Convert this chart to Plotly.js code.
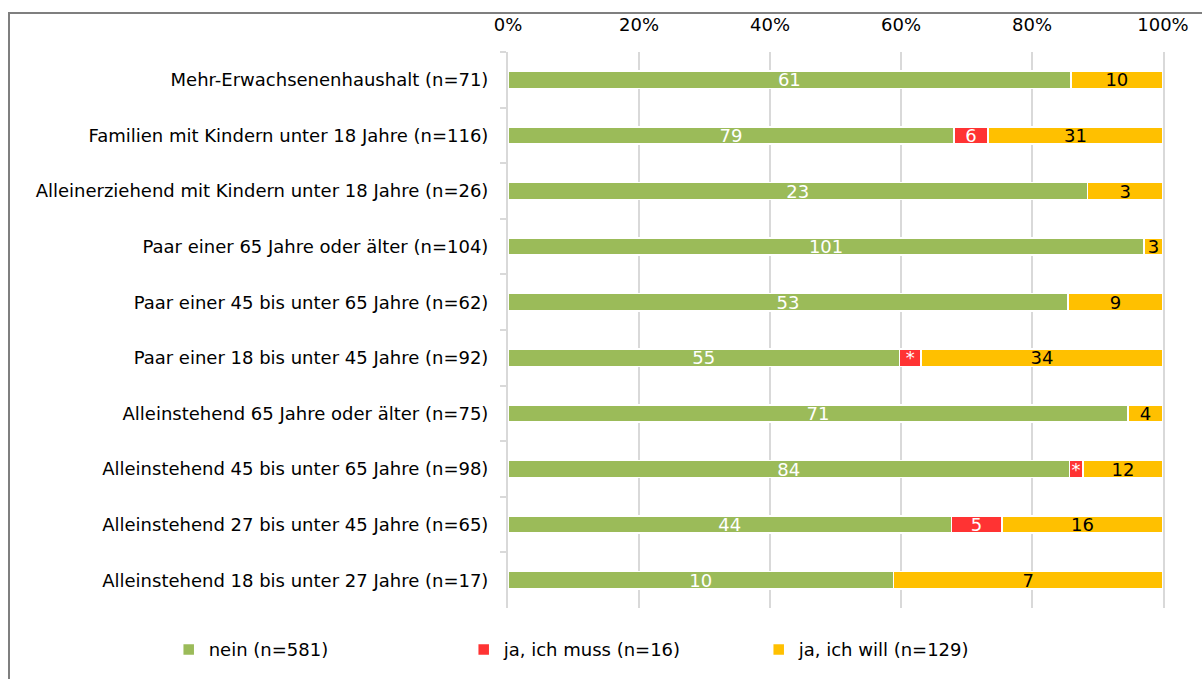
<!DOCTYPE html>
<html>
<head>
<meta charset="utf-8">
<script src="https://cdn.plot.ly/plotly-3.0.1.min.js"></script>
<style>
  html, body { margin: 0; padding: 0; background: #fff; }
  #frame { position: absolute; left: 8px; top: 12px; width: 1210px; height: 690px; border: 2px solid #7f7f7f; box-sizing: border-box; }
  #chart { position: absolute; left: 0; top: 0; width: 1202px; height: 679px; }
</style>
</head>
<body>
<div id="frame"></div>
<div id="chart"></div>
<script>
const categories = [
  "Mehr-Erwachsenenhaushalt (n=71)",
  "Familien mit Kindern unter 18 Jahre (n=116)",
  "Alleinerziehend mit Kindern unter 18 Jahre (n=26)",
  "Paar einer 65 Jahre oder älter (n=104)",
  "Paar einer 45 bis unter 65 Jahre (n=62)",
  "Paar einer 18 bis unter 45 Jahre (n=92)",
  "Alleinstehend 65 Jahre oder älter (n=75)",
  "Alleinstehend 45 bis unter 65 Jahre (n=98)",
  "Alleinstehend 27 bis unter 45 Jahre (n=65)",
  "Alleinstehend 18 bis unter 27 Jahre (n=17)"
];
const nein = [61, 79, 23, 101, 53, 55, 71, 84, 44, 10];
const jaMuss = [0, 6, 0, 0, 0, 3, 0, 2, 5, 0];
const jaWill = [10, 31, 3, 3, 9, 34, 4, 12, 16, 7];
const jaMussLabels = ["", "6", "", "", "", "*", "", "*", "5", ""];
const seriesNames = ["nein (n=581)", "ja, ich muss (n=16)", "ja, ich will (n=129)"];
const xTickVals = [0, 20, 40, 60, 80, 100];
const xTickText = ["0%", "20%", "40%", "60%", "80%", "100%"];

const fontFam = "DejaVu Sans, sans-serif";
function lbl(arr) { return arr.map(v => v === 0 ? "" : String(v)); }

const common = {
  type: "bar", orientation: "h", y: categories,
  textposition: "inside", insidetextanchor: "middle", constraintext: "none",
  textangle: 0, hoverinfo: "x+y+name"
};

const data = [
  Object.assign({}, common, { name: seriesNames[0], x: nein, text: lbl(nein),
    marker: { color: "#9BBB59", line: { color: "#ffffff", width: 1.5 } },
    textfont: { color: "#ffffff", size: 18, family: fontFam } }),
  Object.assign({}, common, { name: seriesNames[1], x: jaMuss, text: jaMussLabels,
    marker: { color: "#FF3333", line: { color: "#ffffff", width: 1.5 } },
    textfont: { color: "#ffffff", size: 18, family: fontFam } }),
  Object.assign({}, common, { name: seriesNames[2], x: jaWill, text: lbl(jaWill),
    marker: { color: "#FFC000", line: { color: "#ffffff", width: 1.5 } },
    textfont: { color: "#000000", size: 18, family: fontFam } })
];

const layout = {
  width: 1202, height: 679,
  paper_bgcolor: "rgba(0,0,0,0)", plot_bgcolor: "rgba(0,0,0,0)",
  barmode: "stack", barnorm: "percent", bargap: 0.69,
  margin: { l: 508, r: 39, t: 52, b: 71, pad: 0, autoexpand: false },
  font: { family: fontFam, size: 18, color: "#000" },
  xaxis: {
    side: "top", range: [0, 100], tickmode: "array", tickvals: xTickVals, ticktext: xTickText,
    showgrid: true, gridcolor: "#d9d9d9", gridwidth: 2, zeroline: false,
    showline: false, ticks: "", ticklabelstandoff: 16, tickfont: { size: 18, family: fontFam }
  },
  yaxis: {
    autorange: "reversed", showgrid: false, zeroline: false,
    showline: true, linecolor: "#d9d9d9", linewidth: 2, mirror: true,
    ticks: "outside", tickson: "boundaries", ticklen: 6, tickcolor: "#d9d9d9", tickwidth: 2,
    ticklabelstandoff: 14, tickfont: { size: 18, family: fontFam }
  },
  showlegend: true,
  legend: {
    orientation: "h", x: -0.518, xanchor: "left",
    y: -0.075, yanchor: "middle", entrywidth: 250, entrywidthmode: "pixels",
    itemwidth: 30, font: { size: 18, family: fontFam }, traceorder: "normal",
    bgcolor: "rgba(0,0,0,0)"
  }
};

Plotly.newPlot("chart", data, layout, { displayModeBar: false, staticPlot: true });
</script>
</body>
</html>
